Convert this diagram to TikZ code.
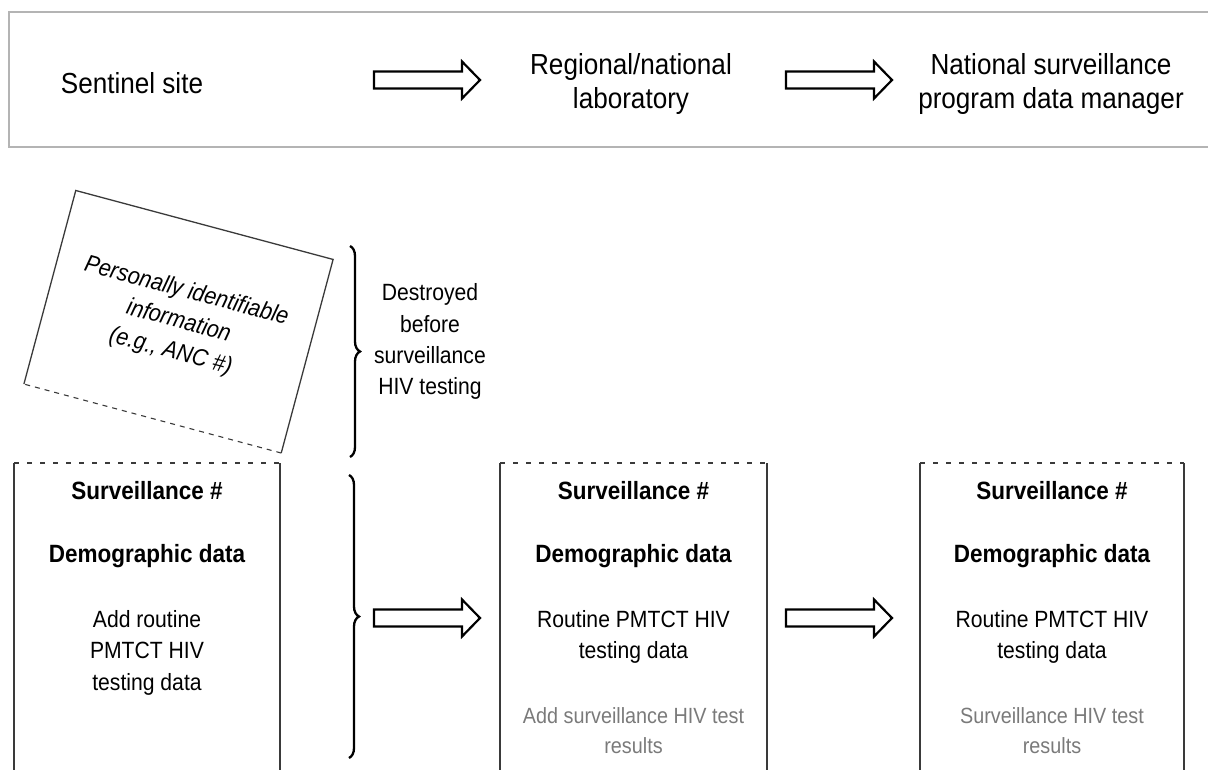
\documentclass[tikz,border=0pt]{standalone}
\usepackage{fontspec}
\setmainfont[FakeStretch=0.9]{Liberation Sans}
\usetikzlibrary{decorations.pathreplacing}
\definecolor{framegray}{HTML}{B4B4B4}
\definecolor{boxline}{HTML}{3A3A3A}
\definecolor{lighttext}{HTML}{7A7A7A}
\begin{document}
\begin{tikzpicture}[x=1pt,y=-1pt,
  toptext/.style={font=\fontsize{29}{34}\selectfont, inner sep=0, anchor=base},
  regtext/.style={font=\fontsize{23.5}{31}\selectfont, inner sep=0, anchor=base},
  boldtext/.style={font=\bfseries\fontsize{25}{31}\selectfont, inner sep=0, anchor=base},
  greytext/.style={font=\fontsize{22}{30}\selectfont, text=lighttext, inner sep=0, anchor=base},
  boxside/.style={draw=boxline, line width=1.3},
  boxtop/.style={draw=boxline, line width=1.3, dash pattern=on 5pt off 8pt},
  bracestyle/.style={line width=2.3, decorate, decoration={brace, amplitude=10pt}},
  blockarrow/.pic={\draw[line width=2.2, line join=miter, fill=white]
     (0,-8.5) -- (88,-8.5) -- (88,-18.5) -- (106,0) -- (88,18.5) -- (88,8.5) -- (0,8.5) -- cycle;}
]
\useasboundingbox (0,0) rectangle (1208,769);
\begin{scope}
\clip (0,0) rectangle (1208,769);

% top frame
\draw[framegray, line width=1.3] (1215,12) -- (9,12) -- (9,147) -- (1215,147);

\node[toptext] (sent) at (132,93) {Sentinel site};
\node[toptext] (reg1) at (631,74) {Regional/national};
\node[toptext] (reg2) at (631,108) {laboratory};
\node[toptext] (nat1) at (1051,74) {National surveillance};
\node[toptext] (nat2) at (1051,108) {program data manager};
\pic (ta1) at (374,80) {blockarrow};
\pic (ta2) at (786,80) {blockarrow};

% rotated box with personal information
\node[rotate=-15, minimum width=266pt, minimum height=200pt, inner sep=0] (pii) at (178.5,321.75) {};
\draw[boxline, line width=1.3] (pii.south west) -- (pii.north west) -- (pii.north east) -- (pii.south east);
\draw[boxline, line width=1.1, dash pattern=on 5pt off 5pt] (pii.south east) -- (pii.south west);
\node[rotate=-15, font=\itshape\fontsize{24}{31}\selectfont, align=center, inner sep=0] (piitext) at (pii.center) {Personally identifiable\\information\\(e.g., ANC \#)};

% brace 1 and its text
\draw[bracestyle] (350,246) -- (350,457);
\node[regtext] (d1) at (430,300) {Destroyed};
\node[regtext] (d2) at (430,332) {before};
\node[regtext] (d3) at (430,363) {surveillance};
\node[regtext] (d4) at (430,394) {HIV testing};

% bottom boxes
\foreach \l/\r/\n in {14/280/b1, 500/767/b2, 920/1184/b3}{
  \coordinate (\n tl) at (\l,463);
  \coordinate (\n tr) at (\r,463);
  \coordinate (\n bl) at (\l,775);
  \coordinate (\n br) at (\r,775);
  \draw[boxside] (\n bl) -- (\n tl);
  \draw[boxside] (\n br) -- (\n tr);
  \draw[boxtop] (\n tl) -- (\n tr);
}

% box 1 text
\node[boldtext] (s1) at (147,499) {Surveillance \#};
\node[boldtext] (g1) at (147,562) {Demographic data};
\node[regtext] (r1a) at (147,627) {Add routine};
\node[regtext] (r1b) at (147,658) {PMTCT HIV};
\node[regtext] (r1c) at (147,690) {testing data};

% box 2 text
\node[boldtext] (s2) at (633.5,499) {Surveillance \#};
\node[boldtext] (g2) at (633.5,562) {Demographic data};
\node[regtext] (r2a) at (633.5,627) {Routine PMTCT HIV};
\node[regtext] (r2b) at (633.5,658) {testing data};
\node[greytext] (h2a) at (633.5,723) {Add surveillance HIV test};
\node[greytext] (h2b) at (633.5,753) {results};

% box 3 text
\node[boldtext] (s3) at (1052,499) {Surveillance \#};
\node[boldtext] (g3) at (1052,562) {Demographic data};
\node[regtext] (r3a) at (1052,627) {Routine PMTCT HIV};
\node[regtext] (r3b) at (1052,658) {testing data};
\node[greytext] (h3a) at (1052,723) {Surveillance HIV test};
\node[greytext] (h3b) at (1052,753) {results};

% brace 2 and arrows
\draw[bracestyle] (349,475) -- (349,758);
\pic (ba1) at (374,618) {blockarrow};
\pic (ba2) at (786,618) {blockarrow};
\end{scope}
\end{tikzpicture}
\end{document}
